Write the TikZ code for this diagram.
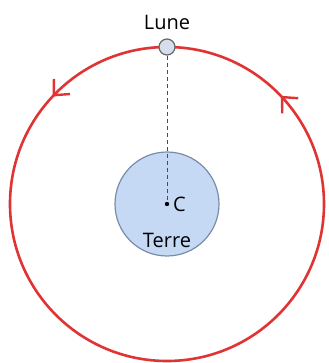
\documentclass[tikz,border=0pt]{standalone}
\usepackage{fontspec}
\setmainfont{Open Sans}
\usetikzlibrary{arrows.meta,positioning,decorations.markings}
\definecolor{orbitred}{RGB}{224,52,52}
\definecolor{earthblue}{RGB}{198,217,244}
\definecolor{earthline}{RGB}{120,140,170}
\definecolor{moonfill}{RGB}{215,222,235}
\tikzset{
  >=stealth,
  font=\fontsize{10}{12}\selectfont,
  orbit/.style  ={draw=orbitred, line width=1.3pt},
  earth/.style  ={circle, draw=earthline, line width=0.6pt, fill=earthblue, minimum size=52pt, inner sep=0pt},
  moon/.style   ={circle, draw=black!60, line width=0.6pt, fill=moonfill, minimum size=8pt, inner sep=0pt},
  ctr/.style    ={circle, fill=black, minimum size=2.2pt, inner sep=0pt},
  lbl/.style    ={inner sep=1pt, text=black},
  ray/.style    ={dashed, black!70, line width=0.5pt, dash pattern=on 2pt off 1.5pt},
  dirmark/.style={decoration={markings,
      mark=at position 0.121 with {\arrow{Straight Barb[length=6pt,width=11pt,line width=1.2pt]}},
      mark=at position 0.380 with {\arrow{Straight Barb[length=6pt,width=11pt,line width=1.2pt]}}},
      postaction={decorate}},
}

\begin{document}
\begin{tikzpicture}[x=0.5pt, y=0.5pt]
  \useasboundingbox (-167,-159) rectangle (161,204);
  % orbit of the moon
  \draw[orbit, dirmark] (0:157) arc[start angle=0, end angle=360, radius=157];
  \node[earth] (terre) at (0,0) {};
  \node[moon] (lune) at (0,157) {};
  \node[ctr] (c) at (0,0) {};
  \draw[ray] (lune) -- (c);
  \node[lbl, above=3pt of lune] (lunetxt) {Lune};
  \node[lbl, right=0.5pt of c] (ctxt) {C};
  \node[lbl] (terretxt) at (0,-36) {Terre};
\end{tikzpicture}
\end{document}
